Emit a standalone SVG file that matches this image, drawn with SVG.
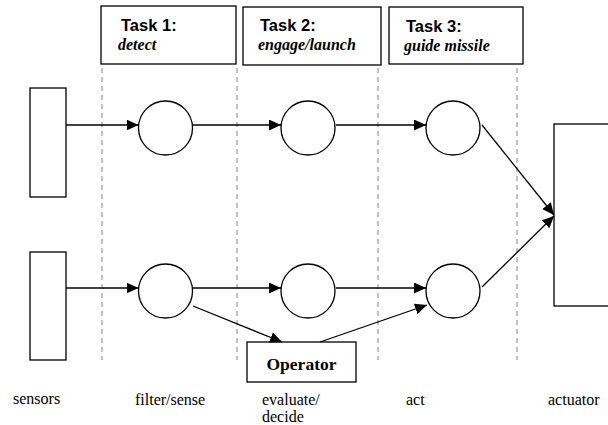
<svg xmlns="http://www.w3.org/2000/svg" width="608" height="425" viewBox="0 0 608 425">
<style>
.box{fill:#fff;stroke:#000;stroke-width:1.3}
.node{fill:#fff;stroke:#000;stroke-width:1.3}
.dash{stroke:#999;stroke-width:1.2;stroke-dasharray:5,4;fill:none}
.edge{stroke:#000;stroke-width:1.3;fill:none;marker-end:url(#ah)}
</style>
<defs>
<marker id="ah" markerUnits="userSpaceOnUse" markerWidth="14" markerHeight="11" refX="12" refY="5.5" orient="auto">
<path d="M0,0 L12,5.5 L0,11 Z" fill="#000"/>
</marker>
</defs>
<rect width="608" height="425" fill="#fff"/>
<g id="lanes">
<line class="dash" x1="102" y1="68" x2="102" y2="360"/>
<line class="dash" x1="237" y1="68" x2="237" y2="360"/>
<line class="dash" x1="378" y1="68" x2="378" y2="360"/>
<line class="dash" x1="517" y1="68" x2="517" y2="360"/>
</g>
<g font-family="Liberation Sans, Arial, sans-serif" font-weight="bold" font-size="16.5">
<g id="task1">
<rect class="box" x="101" y="6" width="135" height="58"/>
<text x="121" y="31">Task 1:</text>
<text x="118" y="50" font-family="Liberation Serif, Times New Roman, serif" font-style="italic" font-size="16">detect</text>
</g>
<g id="task2">
<rect class="box" x="243" y="7" width="138" height="58"/>
<text x="260" y="31">Task 2:</text>
<text x="258" y="50" font-family="Liberation Serif, Times New Roman, serif" font-style="italic" font-size="16">engage/launch</text>
</g>
<g id="task3">
<rect class="box" x="389" y="7" width="134" height="57"/>
<text x="406" y="32">Task 3:</text>
<text x="404" y="51" font-family="Liberation Serif, Times New Roman, serif" font-style="italic" font-size="16">guide missile</text>
</g>
</g>
<g id="sensor1"><rect class="box" x="30" y="88" width="36" height="109"/></g>
<g id="sensor2"><rect class="box" x="30" y="252" width="36" height="108"/></g>
<g id="actuator"><rect class="box" x="554" y="124" width="60" height="182"/></g>
<g id="c11"><circle class="node" cx="165.5" cy="128" r="27"/></g>
<g id="c12"><circle class="node" cx="308" cy="128" r="27"/></g>
<g id="c13"><circle class="node" cx="453" cy="128" r="27"/></g>
<g id="c21"><circle class="node" cx="165.5" cy="291" r="27"/></g>
<g id="c22"><circle class="node" cx="308" cy="291" r="27"/></g>
<g id="c23"><circle class="node" cx="453" cy="291" r="27"/></g>
<g id="operator">
<rect class="box" x="247" y="342" width="109" height="40"/>
<text x="301.5" y="370" text-anchor="middle" font-family="Liberation Serif, Times New Roman, serif" font-weight="bold" font-size="17.5">Operator</text>
</g>
<g id="connectors">
<line class="edge" x1="66" y1="125" x2="138.5" y2="125"/>
<line class="edge" x1="193" y1="125" x2="281" y2="125"/>
<line class="edge" x1="336" y1="125" x2="426" y2="125"/>
<line class="edge" x1="66" y1="288" x2="138.5" y2="288"/>
<line class="edge" x1="193" y1="288" x2="281" y2="288"/>
<line class="edge" x1="336" y1="288" x2="426" y2="288"/>
<line class="edge" x1="193" y1="306" x2="282" y2="342"/>
<line class="edge" x1="320" y1="342" x2="427" y2="305"/>
<line class="edge" x1="482" y1="125" x2="554" y2="215"/>
<line class="edge" x1="482" y1="287" x2="554" y2="216"/>
</g>
<g id="labels" font-family="Liberation Serif, Times New Roman, serif" font-size="16">
<text x="13" y="404">sensors</text>
<text x="135" y="405">filter/sense</text>
<text x="262" y="405">evaluate/</text>
<text x="262" y="422">decide</text>
<text x="406" y="405">act</text>
<text x="548" y="405">actuator</text>
</g>
</svg>
